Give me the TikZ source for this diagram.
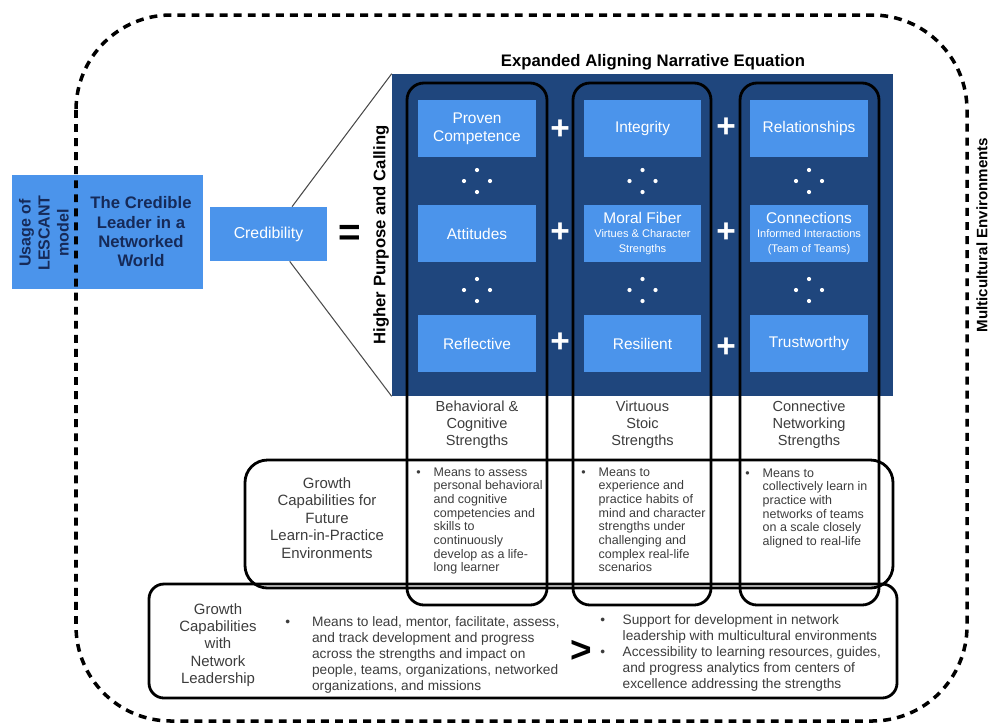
\documentclass[tikz,border=0pt]{standalone}
\usepackage{fontspec}
\setmainfont{Liberation Sans}
\usetikzlibrary{positioning,calc}
\definecolor{boxblue}{RGB}{75,148,235}
\definecolor{panelnavy}{RGB}{31,70,125}
\definecolor{leadnavy}{RGB}{22,42,88}
\definecolor{txtgray}{RGB}{60,60,60}
\newcommand{\fsz}[2]{\fontsize{#1}{#2}\selectfont}
\begin{document}
\begin{tikzpicture}[x=0.02cm,y=-0.02cm,
  bluebox/.style={fill=boxblue,text=white,align=center,minimum width=2.36cm,minimum height=1.14cm,inner sep=1pt,font=\fsz{8.8}{10.2}},
  colframe/.style={line width=1.6pt,rounded corners=0.34cm},
  plus/.style={text=white,inner sep=0pt,font=\bfseries\fsz{19}{19}},
  strength/.style={text=txtgray,align=center,font=\fsz{8.3}{9.6}},
  ctext/.style={text=txtgray,align=center,font=\fsz{8.5}{9.9}},
  gtext/.style={text=txtgray,inner sep=0pt,anchor=base west,font=\fsz{7.1}{7.8}},
  ltext/.style={text=txtgray,inner sep=0pt,anchor=base west,font=\fsz{7.8}{9.2}}]
\useasboundingbox (0,0) rectangle (990,725);
% leader and credibility
\node[fill=boxblue,minimum width=3.82cm,minimum height=2.28cm] (leader) at (107.5,232) {};
\node[rotate=90,align=center,text=leadnavy,font=\bfseries\fsz{9.1}{10.8}] (usage) at (44,233) {Usage of\\LESCANT\\model};
\node[align=center,text=leadnavy,font=\bfseries\fsz{9.5}{11}] (cl) at (141,232) {The Credible\\Leader in a\\Networked\\World};
\draw[line width=2pt,dash pattern=on 4.5pt off 3.5pt,rounded corners=1.9cm] (76,15) rectangle (967,721);
\node[rotate=90,font=\bfseries\fsz{8.6}{10}] (multi) at (982,235) {Multicultural Environments};
\node[fill=boxblue,text=white,minimum width=2.34cm,minimum height=1.08cm,font=\fsz{9}{10}] (cred) at (268.5,234) {Credibility};
\node[font=\bfseries\fsz{22}{22},inner sep=0pt] (eq) at (350,235) {=};
% panel
\node[fill=panelnavy,minimum width=10.02cm,minimum height=6.44cm,inner sep=0pt] (pan) at (642.5,235) {};
\node[font=\bfseries\fsz{9.5}{11}] (ttl) at (653,62) {Expanded Aligning Narrative Equation};
\draw[black!70,line width=0.6pt] ($(cred.north west)!0.7!(cred.north east)$) -- (pan.north west);
\draw[black!70,line width=0.6pt] ($(cred.south west)!0.68!(cred.south east)$) -- (pan.south west);
\node[rotate=90,font=\bfseries\fsz{9.5}{11}] (hp) at (381,235) {Higher Purpose and Calling};
\node[bluebox] (comp) at (477,128.5) {Proven\\Competence};
\node[bluebox] (integ) at (642.5,128.5) {Integrity};
\node[bluebox] (rel) at (809,128.5) {Relationships};
\node[bluebox] (att) at (477,233.5) {Attitudes};
\node[bluebox] (moral) at (642.5,233.5) {Moral Fiber\\[-1.8pt]{\fsz{6.3}{7.4}Virtues \& Character}\\[-1.8pt]{\fsz{6.3}{7.4}Strengths}};
\node[bluebox] (conn) at (809,233.5) {Connections\\[-1.8pt]{\fsz{6.3}{7.4}Informed Interactions}\\[-1.8pt]{\fsz{6.3}{7.4}(Team of Teams)}};
\node[bluebox] (refl) at (477,343.5) {Reflective};
\node[bluebox] (resil) at (642.5,343.5) {Resilient};
\node[bluebox] (trust) at (809,343.5) {Trustworthy};
\node[plus] (pl1) at (560,130) {+};
\node[plus] (pl2) at (726,128) {+};
\node[plus] (pl3) at (560,233) {+};
\node[plus] (pl4) at (726,233) {+};
\node[plus] (pl5) at (560,343) {+};
\node[plus] (pl6) at (726,348) {+};
\foreach \x in {477,642.5,809}{\foreach \y in {181,290}{
  \fill[white] (\x,\y-11) circle (1.2pt) (\x-13,\y) circle (1.2pt) (\x+13,\y) circle (1.2pt) (\x,\y+11) circle (1.2pt);}}
\draw[colframe] (407,83) rectangle (547,605);
\draw[colframe] (573,83) rectangle (711,605);
\draw[colframe] (740,83) rectangle (879,605);
\node[strength] (bcs) at (477,425) {Behavioral \&\\Cognitive\\Strengths};
\node[strength] (vss) at (642.5,425) {Virtuous\\Stoic\\Strengths};
\node[strength] (cns) at (809,425) {Connective\\Networking\\Strengths};
% growth capabilities
\draw[line width=1.6pt,rounded corners=0.45cm] (245,460) rectangle (893,588);
\node[ctext] (gfut) at (327,518) {Growth\\Capabilities for\\Future\\Learn-in-Practice\\Environments};
\node[gtext] (g1) at (416,476) {\begin{tabular}[t]{@{}l@{\hspace{7.4pt}}l@{}}\textbullet&Means to assess\\&personal behavioral\\&and cognitive\\&competencies and\\&skills to\\&continuously\\&develop as a life-\\&long learner\end{tabular}};
\node[gtext] (g2) at (581,476) {\begin{tabular}[t]{@{}l@{\hspace{7.4pt}}l@{}}\textbullet&Means to\\&experience and\\&practice habits of\\&mind and character\\&strengths under\\&challenging and\\&complex real-life\\&scenarios\end{tabular}};
\node[gtext] (g3) at (745,477) {\begin{tabular}[t]{@{}l@{\hspace{7.4pt}}l@{}}\textbullet&Means to\\&collectively learn in\\&practice with\\&networks of teams\\&on a scale closely\\&aligned to real-life\end{tabular}};
% network leadership
\draw[line width=1.6pt,rounded corners=0.3cm] (149,584) rectangle (897,698);
\node[ctext] (gnet) at (218,645) {Growth\\Capabilities\\with\\Network\\Leadership};
\node[ltext] (lead) at (285,626) {\begin{tabular}[t]{@{}l@{\hspace{12.5pt}}l@{}}\textbullet&Means to lead, mentor, facilitate, assess,\\&and track development and progress\\&across the strengths and impact on\\&people, teams, organizations, networked\\&organizations, and missions\end{tabular}};
\node[font=\bfseries\fsz{21}{21},inner sep=0pt] (gt) at (581,651) {>};
\node[ltext] (supp) at (600,624) {\begin{tabular}[t]{@{}l@{\hspace{10pt}}l@{}}\textbullet&Support for development in network\\&leadership with multicultural environments\\\textbullet&Accessibility to learning resources, guides,\\&and progress analytics from centers of\\&excellence addressing the strengths\end{tabular}};
\end{tikzpicture}
\end{document}
